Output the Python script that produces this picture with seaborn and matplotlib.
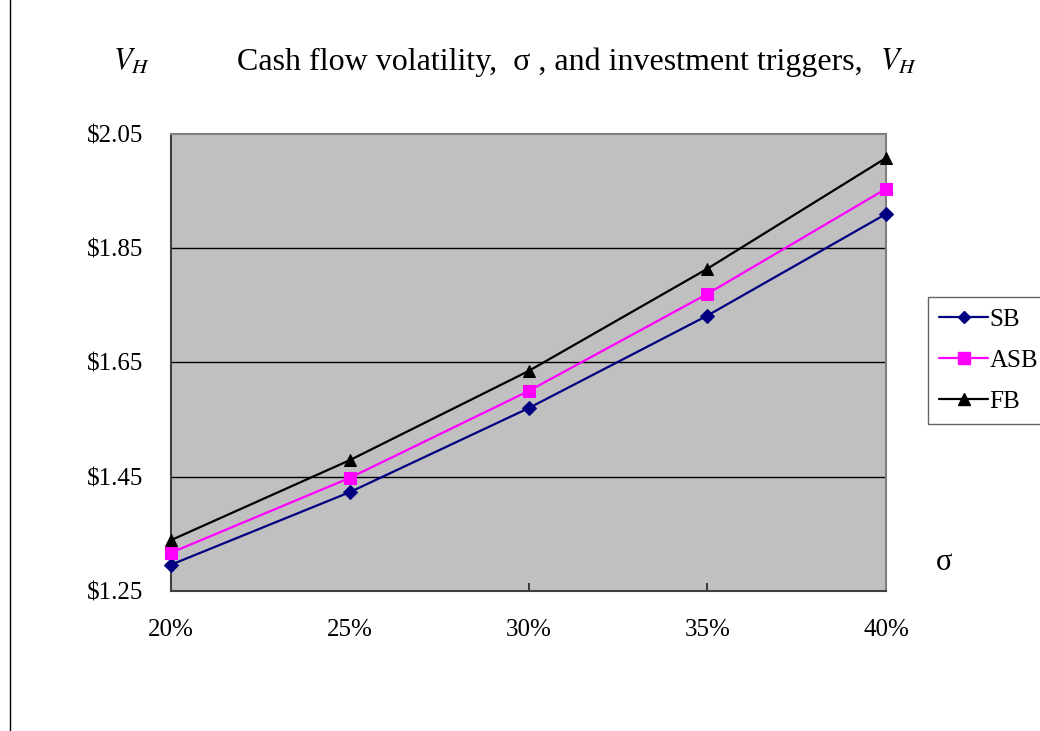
import matplotlib
matplotlib.use("Agg")
import matplotlib.pyplot as plt
import seaborn as sns
import pandas as pd
from matplotlib.lines import Line2D

sigma = [20, 25, 30, 35, 40]
sb = [1.296, 1.423, 1.570, 1.732, 1.910]
asb = [1.317, 1.448, 1.600, 1.770, 1.954]
fb = [1.339, 1.479, 1.635, 1.814, 2.008]
series_names = ["SB", "ASB", "FB"]
y_ticks = [1.25, 1.45, 1.65, 1.85, 2.05]
x_tick_labels = ["20%", "25%", "30%", "35%", "40%"]

sns.set_theme(style="white")
plt.rcParams['font.family'] = ['Liberation Serif', 'DejaVu Serif']
plt.rcParams['mathtext.fontset'] = 'stix'
plt.rcParams['text.color'] = 'black'
plt.rcParams['xtick.color'] = 'black'
plt.rcParams['ytick.color'] = 'black'
plt.rcParams['xtick.labelcolor'] = 'black'
plt.rcParams['ytick.labelcolor'] = 'black'

fig = plt.figure(figsize=(10.4, 7.31), dpi=100)
ax = fig.add_axes([171/1040, 1-591/731, 715/1040, 457/731])
ax.set_facecolor("#c0c0c0")

df = pd.DataFrame({"sigma": sigma * 3,
                   "value": sb + asb + fb,
                   "series": [n for n in series_names for _ in sigma]})

styles = {"SB": ("#000080", "D", 7),
          "ASB": ("#ff00ff", "s", 9),
          "FB": ("#000000", "^", 9)}
for name in series_names:
    c, m, ms = styles[name]
    sub = df[df.series == name]
    sns.lineplot(data=sub, x="sigma", y="value", color=c, marker=m,
                 markersize=ms, markeredgecolor=c, linewidth=1.6, ax=ax,
                 legend=False, clip_on=False, zorder=3)

ax.set_xlim(20, 40)
ax.set_ylim(1.25, 2.05)
ax.set_yticks(y_ticks)
ax.set_yticklabels(["\\$%.2f" % v for v in y_ticks])
ax.set_xticks(sigma)
ax.set_xticklabels(x_tick_labels)
for v in y_ticks[1:-1]:
    ax.axhline(v, color="black", linewidth=1.0, zorder=1)
ax.tick_params(axis="y", which="both", length=0, pad=20, labelsize=18)
ax.tick_params(axis="x", which="both", direction="in", length=6, pad=20,
               labelsize=18, color="#202020", width=1.2, bottom=True)
ax.xaxis.get_major_ticks()[1].tick1line.set_visible(False)
ax.set_xlabel("")
ax.set_ylabel("")
for s in ["left", "bottom"]:
    ax.spines[s].set_color("#404040")
    ax.spines[s].set_linewidth(1.5)
for s in ["top", "right"]:
    ax.spines[s].set_color("#808080")
    ax.spines[s].set_linewidth(1.5)

# legend
handles = [Line2D([0], [0], color=styles[n][0], marker=styles[n][1],
                  markersize=styles[n][2]-1, linewidth=1.6) for n in series_names]
leg = fig.legend(handles, series_names, loc="upper left",
                 bbox_to_anchor=(928/1040, 1-297/731), frameon=True,
                 fontsize=18, handlelength=1.95, handletextpad=0.05,
                 borderpad=0.45, borderaxespad=0, labelspacing=0.75,
                 fancybox=False)
leg._legend_box.sep = 0
leg.get_frame().set_edgecolor("#404040")
leg.get_frame().set_linewidth(1.0)

# title and labels
fig.text(113/1040, 1-62/731, r"$V_H$", fontsize=22, ha="left", va="center")
fig.text(237/1040, 1-62/731,
         "Cash flow volatility,  σ , and investment triggers,  ",
         fontsize=23, ha="left", va="center")
fig.text(880/1040, 1-62/731, r"$V_H$", fontsize=22, ha="left", va="center")
fig.text(944/1040, 1-562/731, "σ", fontsize=22, ha="center", va="center")

# page edge line
fig.add_artist(Line2D([10/1040, 10/1040], [0, 1], color="black",
                      linewidth=1.0, transform=fig.transFigure))

fig.savefig("out.png", dpi=100)
